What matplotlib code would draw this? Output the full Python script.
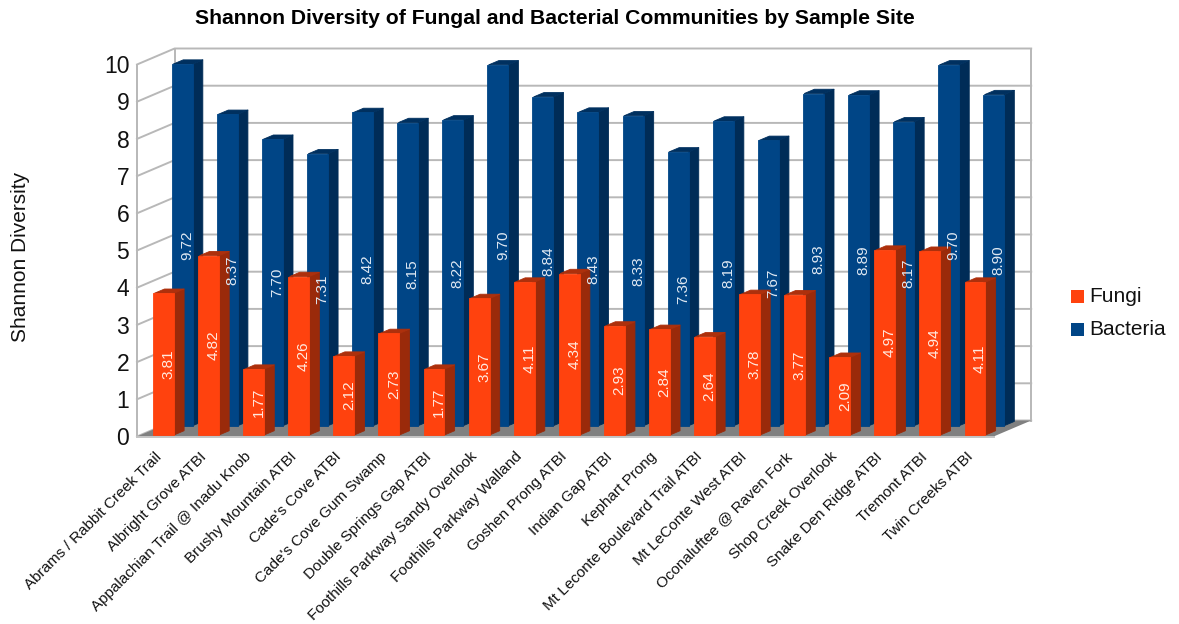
import matplotlib
matplotlib.use("Agg")
import matplotlib.pyplot as plt
from matplotlib.patches import Polygon, Rectangle

plt.rcParams['font.family'] = ['Liberation Sans', 'DejaVu Sans']

sites = ["Abrams / Rabbit Creek Trail", "Albright Grove ATBI", "Appalachian Trail @ Inadu Knob",
         "Brushy Mountain ATBI", "Cade's Cove ATBI", "Cade's Cove Gum Swamp",
         "Double Springs Gap ATBI", "Foothills Parkway Sandy Overlook", "Foothills Parkway Walland",
         "Goshen Prong ATBI", "Indian Gap ATBI", "Kephart Prong",
         "Mt Leconte Boulevard Trail ATBI", "Mt LeConte West ATBI", "Oconaluftee @ Raven Fork",
         "Shop Creek Overlook", "Snake Den Ridge ATBI", "Tremont ATBI", "Twin Creeks ATBI"]
fungi = [3.81, 4.82, 1.77, 4.26, 2.12, 2.73, 1.77, 3.67, 4.11, 4.34,
         2.93, 2.84, 2.64, 3.78, 3.77, 2.09, 4.97, 4.94, 4.11]
bacteria = [9.72, 8.37, 7.70, 7.31, 8.42, 8.15, 8.22, 9.70, 8.84, 8.43,
            8.33, 7.36, 8.19, 7.67, 8.93, 8.89, 8.17, 9.70, 8.90]
yticks = list(range(0, 11))

W, H = 1179, 624
GRID = '#b8b8b8'
# fake 3D: depth offsets in axis units (x = categories, y = diversity)
WALL_DX, WALL_DY = 0.834, 0.43
BAR_W = 0.465
BAR_DX, BAR_DY = 0.225, 0.115

fig = plt.figure(figsize=(W / 100, H / 100), dpi=100, facecolor='white')
ax = fig.add_axes([137 / W, (H - 436.5) / H, 856.6 / W, 372 / H])
ax.set_xlim(0, len(sites))
ax.set_ylim(0, 10)
ax.axis('off')


def poly(pts, color, z, lw=0.6):
    ax.add_patch(Polygon(pts, closed=True, facecolor=color, edgecolor=color, lw=lw,
                         joinstyle='round', zorder=z, clip_on=False))


def draw_bar(x, base, value, front, side, top, z):
    x2 = x + BAR_W
    y2 = base + value
    poly([(x2, base), (x2 + BAR_DX, base + BAR_DY), (x2 + BAR_DX, y2 + BAR_DY), (x2, y2)], side, z)
    poly([(x + 0.03, y2), (x + 0.03 + BAR_DX, y2 + BAR_DY), (x2 + BAR_DX, y2 + BAR_DY), (x2, y2)], top, z)
    poly([(x, base), (x2, base), (x2, y2), (x, y2)], front, z + 0.1)


# floor and walls
n = len(sites)
poly([(0, 0), (WALL_DX, WALL_DY), (n + WALL_DX, WALL_DY), (n, 0)], '#808080', 3, lw=0)
for v in yticks:
    ax.plot([0, WALL_DX, n + WALL_DX], [v, v + WALL_DY, v + WALL_DY], color=GRID, lw=1.4, zorder=2,
            clip_on=False, solid_joinstyle='round')
ax.plot([0, 0], [0, 10], color=GRID, lw=1.4, zorder=2, clip_on=False)
ax.plot([WALL_DX, WALL_DX], [WALL_DY, 10 + WALL_DY], color=GRID, lw=1.4, zorder=2, clip_on=False)
ax.plot([n + WALL_DX, n + WALL_DX], [WALL_DY, 10 + WALL_DY], color=GRID, lw=1.4, zorder=2, clip_on=False)
ax.plot([0, n], [-0.015, -0.015], color='#c4c4c4', lw=1.4, zorder=3, clip_on=False)

# bacteria row sits behind the fungi row
for i, v in enumerate(bacteria):
    draw_bar(i + 0.77, 0.29, v, '#004586', '#002c57', '#00305f', 4)
for i, v in enumerate(fungi):
    draw_bar(i + 0.355, 0.04, v, '#ff420e', '#9a2a0a', '#ad300c', 5)

for i, v in enumerate(bacteria):
    ax.text(i + 0.77 + 0.345, 0.29 + v / 2, f"{v:.2f}", color='#dfe8f2', fontsize=11, rotation=90,
            ha='center', va='center', zorder=7)
for i, v in enumerate(fungi):
    ax.text(i + 0.355 + 0.345, 0.04 + v / 2, f"{v:.2f}", color='#ffe9df', fontsize=11, rotation=90,
            ha='center', va='center', zorder=7)

for v in yticks:
    ax.text(-0.17, v - 0.06, str(v), fontsize=16.5, color='#111111', ha='right', va='center')

for i, name in enumerate(sites):
    ax.text(i + 0.38, -0.35, name, fontsize=11, color='#111111', rotation=45,
            rotation_mode='anchor', ha='right', va='top')

fig.text(555 / W, 1 - 18 / H, "Shannon Diversity of Fungal and Bacterial Communities by Sample Site",
         fontsize=15.2, fontweight='bold', ha='center', va='center', color='black')
fig.text(21 / W, 1 - 257 / H, "Shannon Diversity", fontsize=15, rotation=90, ha='center', va='center',
         color='#111111')

# legend
for yp, col, label in [(297, '#ff420e', 'Fungi'), (329.5, '#004586', 'Bacteria')]:
    fig.patches.append(Rectangle((1071 / W, 1 - (yp + 6.5) / H), 12.5 / W, 13 / H, transform=fig.transFigure,
                                 facecolor=col, edgecolor='none'))
    fig.text(1089 / W, 1 - yp / H, label, fontsize=15, va='center', ha='left', color='#111111')

fig.savefig('out.png', dpi=100)
